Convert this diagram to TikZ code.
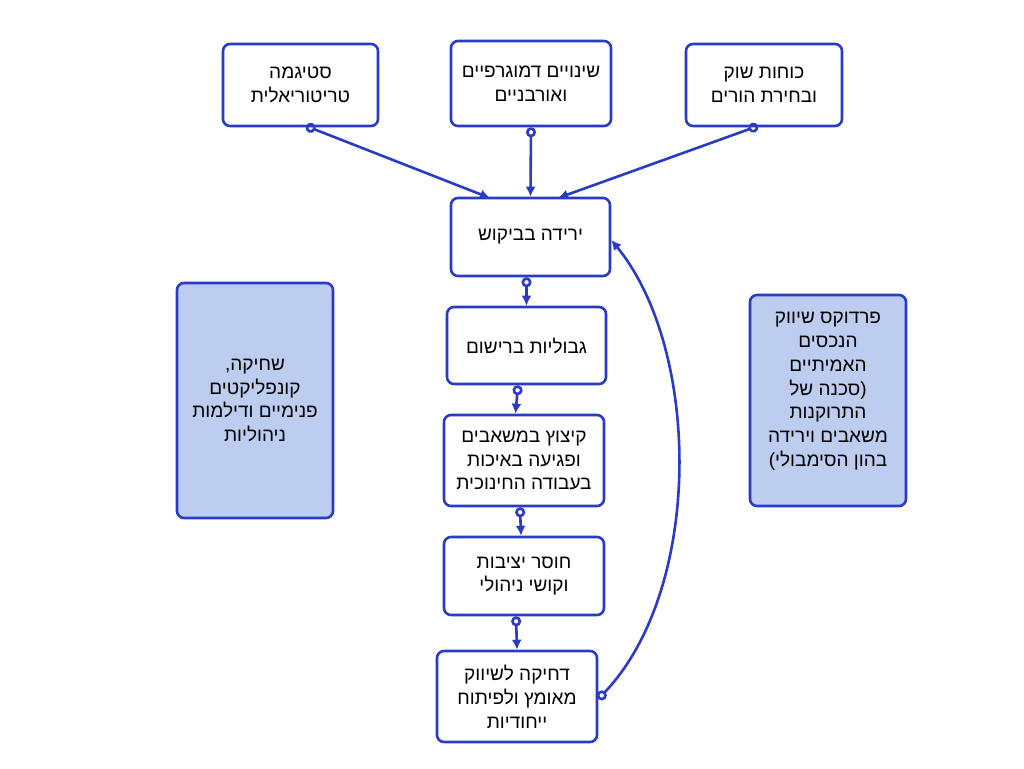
\documentclass[tikz,border=0pt]{standalone}
\usepackage{fontspec}
\TeXXeTstate=1
\newfontfamily\hebfont[Script=Hebrew]{Liberation Sans}
\newfontfamily\latfont{Liberation Sans}
\usetikzlibrary{arrows.meta}
\definecolor{edgeblue}{RGB}{41,59,199}
\definecolor{fillblue}{RGB}{188,205,239}
\newcommand{\heb}[1]{\beginR #1\endR}
\newcommand{\lat}[1]{\mbox{\latfont #1}}
\begin{document}
\begin{tikzpicture}[x=1pt,y=-1pt,
 box/.style={draw=edgeblue, line width=2.6pt, rounded corners=7pt, fill=white, align=center,
   font=\hebfont\fontsize{19}{23.8}\selectfont, inner sep=0pt},
 sidebox/.style={box, fill=fillblue},
 flow/.style={draw=edgeblue, line width=2.6pt,
   {Circle[open,length=10pt,width=10pt]}-{Latex[length=10pt,width=10pt]}},
]
\useasboundingbox (0,0) rectangle (1024,768);
\fill[white] (0,0) rectangle (1024,768);

\node[box, minimum width=155, minimum height=82] (A) at (300.5,85) {\heb{סטיגמה}\\\heb{טריטוריאלית}};
\node[box, minimum width=160, minimum height=85] (B) at (531,83.5) {\heb{שינויים דמוגרפיים}\\\heb{ואורבניים}};
\node[box, minimum width=156, minimum height=82] (C) at (764,85) {\heb{כוחות שוק}\\\heb{ובחירת הורים}};
\node[box, minimum width=159, minimum height=78] (D) at (530.5,237) {\heb{ירידה בביקוש}};
\node[box, minimum width=159, minimum height=77] (E) at (526.5,345.5) {\heb{גבוליות ברישום}};
\node[box, minimum width=160, minimum height=91] (F) at (524,460.5) {\heb{קיצוץ במשאבים}\\\heb{ופגיעה באיכות}\\\heb{בעבודה החינוכית}};
\node[box, minimum width=160, minimum height=78] (G) at (524,576) {\heb{חוסר יציבות}\\\heb{וקושי ניהולי}};
\node[box, minimum width=160, minimum height=91] (H) at (517,696.5) {\heb{דחיקה לשיווק}\\\heb{מאומץ ולפיתוח}\\\heb{ייחודיות}};
\node[sidebox, minimum width=156, minimum height=235] (L) at (255,400.5) {\lat{,}\heb{שחיקה}\\\heb{קונפליקטים}\\\heb{פנימיים ודילמות}\\\heb{ניהוליות}};
\node[sidebox, minimum width=156, minimum height=211, text depth=22pt] (R) at (828,400.5) {\heb{פרדוקס שיווק}\\\heb{הנכסים}\\\heb{האמיתיים}\\\heb{סכנה של}\lat{)}\\\heb{התרוקנות}\\\heb{משאבים וירידה}\\\lat{(}\heb{בהון הסימבולי}};

\coordinate (As) at (306,126);
\coordinate (Dt1) at (490,198);
\coordinate (Cs) at (758,126);
\coordinate (Dt2) at (558,198);
\draw[flow] (As) -- (Dt1);
\draw[flow] (B.south) -- (D.north);
\draw[flow] (Cs) -- (Dt2);
\draw[flow] ([xshift=-4pt]D.south) -- ([xshift=0pt]E.north);
\draw[flow] ([xshift=-8.5pt]E.south) -- ([xshift=-8.5pt]F.north);
\draw[flow] ([xshift=-4pt]F.south) -- ([xshift=-3pt]G.north);
\draw[flow] ([xshift=-8pt]G.south) -- (H.north);
\draw[flow] ([yshift=-2.5pt]H.east) .. controls +(105,-110) and +(90,110) .. ([yshift=-3pt]D.east);
\end{tikzpicture}
\end{document}
